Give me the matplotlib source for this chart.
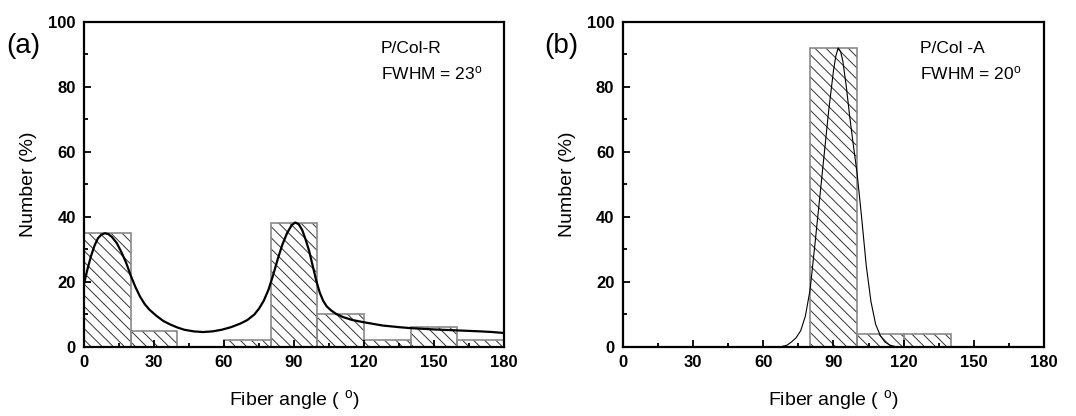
import matplotlib
matplotlib.use("Agg")
import matplotlib.pyplot as plt
from matplotlib.ticker import MultipleLocator

plt.rcParams['font.family'] = ['Liberation Sans', 'DejaVu Sans']
plt.rcParams['hatch.linewidth'] = 0.7
plt.rcParams['mathtext.default'] = 'regular'

# histogram bins (20 degree wide)
bin_left = [0, 20, 40, 60, 80, 100, 120, 140, 160]
bin_width = 20
counts_r = [35, 5, 0, 2, 38, 10, 2, 6, 2]
counts_a = [0, 0, 0, 0, 92, 4, 4, 0, 0]

# fitted distribution curves
fit_r_angle = [0, 1.5, 3, 4.5, 6, 7.5, 9, 10.5, 12, 14, 16, 18, 20, 22, 24, 26, 28,
               31, 34, 37, 40, 43, 47, 51, 55, 59, 63, 67, 70, 73, 75, 77, 79, 81,
               83, 85, 87, 89, 90.5, 92, 93.5, 95, 96.5, 98, 99.5, 101, 102.5, 104,
               106, 108, 111, 115, 120, 128, 135, 140, 150, 160, 170, 175, 180]
fit_r_value = [19.5, 24, 28, 31.2, 33.5, 34.6, 35, 34.7, 33.8, 32, 29.2, 26, 22, 18.5,
               15.5, 13.2, 11.5, 9.6, 8, 6.9, 6, 5.3, 4.8, 4.6, 4.8, 5.3, 6.1, 7.2,
               8.3, 10, 11.8, 14.2, 17.5, 22, 27, 31.5, 35, 37.5, 38.3, 37.8, 36, 33,
               29.5, 25, 20.5, 16.8, 14.2, 12.5, 11.2, 10.2, 9.2, 8.3, 7.6, 6.6, 6.1,
               5.8, 5.4, 5.1, 4.8, 4.6, 4.3]

fit_a_angle = [67, 70, 72, 74, 76, 78, 80, 82, 84, 86, 88, 90, 91, 92, 93, 94, 95.5,
               97, 98.5, 100, 102, 104, 106, 108, 110, 112, 114, 117]
fit_a_value = [0, 0.5, 1.5, 2.8, 5, 9.5, 17.5, 31, 45, 59, 73, 85, 89.5, 92, 91, 88,
               80, 70.5, 62, 54, 40, 25, 14, 7, 3.5, 1.5, 0.6, 0]

panels = [
    ("(a)", "P/Col-R", "FWHM = 23$^{o}$", counts_r, fit_r_angle, fit_r_value, 1.6),
    ("(b)", "P/Col -A", "FWHM = 20$^{o}$", counts_a, fit_a_angle, fit_a_value, 0.8),
]

fig = plt.figure(figsize=(10.76, 4.16), dpi=100)
axes_rects = [[0.0781, 0.1659, 0.3903, 0.78125], [0.5787, 0.1659, 0.3918, 0.78125]]

for rect, (tag, name, fwhm, counts, fx, fy, lw) in zip(axes_rects, panels):
    ax = fig.add_axes(rect)
    # hatch layer, then grey outline on top
    ax.bar(bin_left, counts, width=bin_width, align='edge', color='none',
           edgecolor='#333333', linewidth=0, hatch='\\\\\\')
    ax.bar(bin_left, counts, width=bin_width, align='edge', fill=False,
           edgecolor='#8a8a8a', linewidth=1.2)
    ax.plot(fx, fy, color='black', linewidth=lw)

    ax.set_xlim(0, 180)
    ax.set_ylim(0, 100)
    ax.xaxis.set_major_locator(MultipleLocator(30))
    ax.xaxis.set_minor_locator(MultipleLocator(15))
    ax.yaxis.set_major_locator(MultipleLocator(20))
    ax.yaxis.set_minor_locator(MultipleLocator(10))
    ax.tick_params(which='both', direction='in', top=False, right=False, width=1.3)
    ax.tick_params(which='major', length=5, pad=6)
    ax.tick_params(which='minor', length=3)
    for lab in ax.get_xticklabels() + ax.get_yticklabels():
        lab.set_family(['Liberation Sans Narrow', 'Liberation Sans'])
        lab.set_fontweight('bold')
        lab.set_fontsize(12)
    for sp in ax.spines.values():
        sp.set_linewidth(1.6)

    ax.set_xlabel("Fiber angle ( $^{o}$)", fontsize=14, labelpad=13)
    ax.set_ylabel("Number (%)", fontsize=14, labelpad=8)

    ax.text(0.706, 0.905, name, transform=ax.transAxes, fontsize=12.5)
    ax.text(0.706, 0.825, fwhm, transform=ax.transAxes, fontsize=12.5)
    ax.text(-0.185, 0.905, tag, transform=ax.transAxes, fontsize=20)

fig.savefig("out.png", dpi=100)
